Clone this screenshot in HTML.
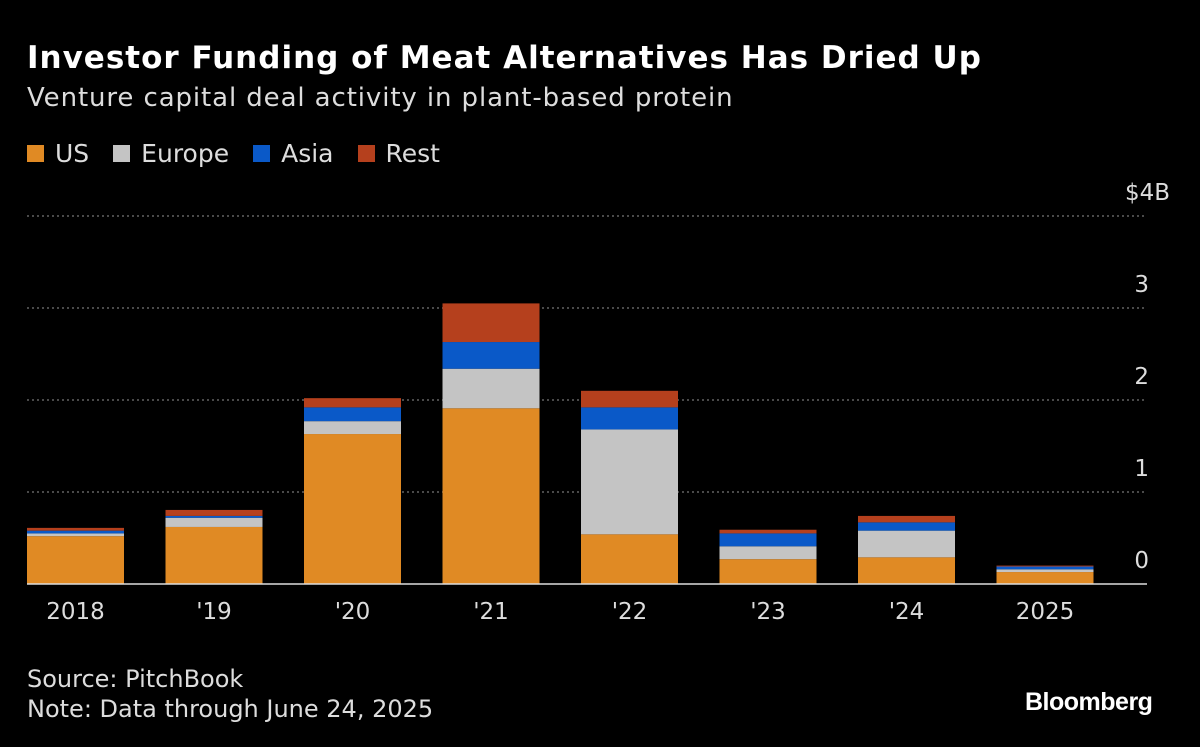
<!DOCTYPE html>
<html><head><meta charset="utf-8">
<style>
body{margin:0;background:#000;width:1200px;height:747px;overflow:hidden;font-family:"DejaVu Sans","Liberation Sans",sans-serif;color:#fff;position:relative}
.t{position:absolute;white-space:nowrap}
</style></head><body>
<div class="t" style="left:27px;top:40px;font-size:31px;font-weight:bold;letter-spacing:1px">Investor Funding of Meat Alternatives Has Dried Up</div>
<div class="t" style="left:27px;top:83px;font-size:26px;color:#ddd;letter-spacing:0.9px">Venture capital deal activity in plant-based protein</div>
<div style="position:absolute;left:27px;top:139px;font-size:25px;color:#ddd;display:flex;gap:24px;align-items:center">
<span><span style="display:inline-block;width:17px;height:17px;background:#e08a24;margin-right:11px"></span>US</span>
<span><span style="display:inline-block;width:17px;height:17px;background:#c4c4c4;margin-right:11px"></span>Europe</span>
<span><span style="display:inline-block;width:17px;height:17px;background:#0a59c8;margin-right:11px"></span>Asia</span>
<span><span style="display:inline-block;width:17px;height:17px;background:#b5401d;margin-right:11px"></span>Rest</span>
</div>
<svg id="chart" width="1200" height="747" style="position:absolute;left:0;top:0"></svg>
<div class="t" style="left:27px;top:665px;font-size:24px;color:#ddd">Source: PitchBook</div>
<div class="t" style="left:27px;top:695px;font-size:24px;color:#ddd">Note: Data through June 24, 2025</div>
<div class="t" style="left:1025px;top:688px;font-family:'Liberation Sans',sans-serif;font-size:25px;font-weight:bold;letter-spacing:-0.5px">Bloomberg</div>
<script>
const categories=["2018","'19","'20","'21","'22","'23","'24","2025"];
const us=[0.52,0.62,1.63,1.91,0.54,0.27,0.29,0.13];
const europe=[0.03,0.10,0.14,0.43,1.14,0.14,0.29,0.03];
const asia=[0.03,0.02,0.15,0.29,0.24,0.14,0.09,0.03];
const rest=[0.03,0.065,0.10,0.42,0.18,0.04,0.07,0.01];
const ticks=[0,1,2,3,4];
const tickLabels=["0","1","2","3","$4B"];
const NS="http://www.w3.org/2000/svg";
const svg=document.getElementById('chart');
const y=v=>584-v*92;
const x=i=>27+i*138.5;
const bw=97;
function mk(t,a){const e=document.createElementNS(NS,t);for(const k in a)e.setAttribute(k,a[k]);svg.appendChild(e);return e;}
ticks.forEach((t,i)=>{
 if(t>0){const l=mk('line',{x1:27,x2:1147,y1:y(t),y2:y(t),stroke:'#777','stroke-width':1.3,'stroke-dasharray':'2,3'});
 
 }
 const last=i===ticks.length-1;
 const tx=mk('text',{x:last?1170:1149,y:y(t)-16,'text-anchor':'end',fill:'#ddd','font-size':23,'font-family':'DejaVu Sans, Liberation Sans, sans-serif'});
 tx.textContent=tickLabels[i];
 
 
});
const series=[[us,'#e08a24','us'],[europe,'#c4c4c4','europe'],[asia,'#0a59c8','asia'],[rest,'#b5401d','rest']];
categories.forEach((c,i)=>{
 let base=0;
 series.forEach(([arr,col,nm])=>{
  const v=arr[i];
  const r=mk('rect',{x:x(i),y:y(base+v),width:bw,height:v*92,fill:col});
  
  
  base+=v;
 });
 const t=mk('text',{x:x(i)+bw/2,y:619,'text-anchor':'middle',fill:'#ddd','font-size':23,'font-family':'DejaVu Sans, Liberation Sans, sans-serif'});
 t.textContent=c;
 
 
});
const b=mk('line',{x1:27,x2:1147,y1:584,y2:584,stroke:'#ddd','stroke-width':1.5});


</script>
</body></html>
